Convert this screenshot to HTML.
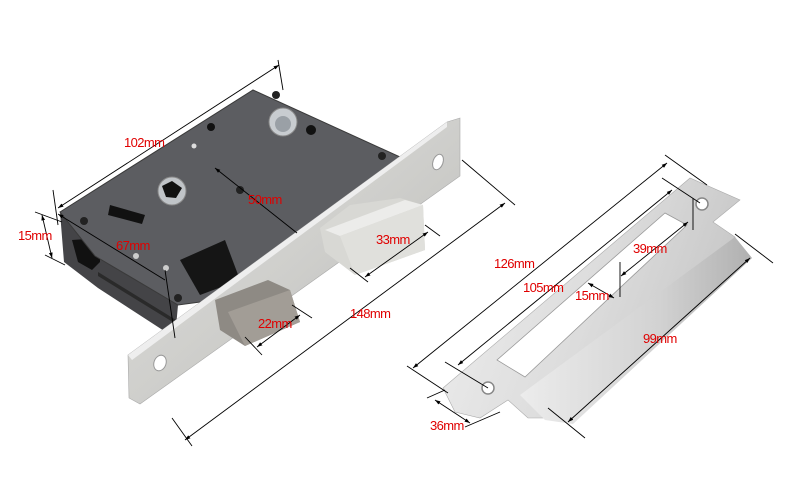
<!DOCTYPE html>
<html><head><meta charset="utf-8"><style>
html,body{margin:0;padding:0;background:#fff;}
svg{display:block;}
text{font-family:"Liberation Sans",sans-serif;font-size:13px;fill:#e00000;letter-spacing:-0.6px;}
</style></head><body>
<svg width="790" height="487" viewBox="0 0 790 487" xmlns="http://www.w3.org/2000/svg">
<defs>
<linearGradient id="steel" x1="0" y1="0" x2="1" y2="1">
<stop offset="0" stop-color="#e0e0de"/><stop offset="0.5" stop-color="#cfcfcc"/><stop offset="1" stop-color="#b8b8b5"/>
</linearGradient>
<linearGradient id="steel2" x1="0" y1="0" x2="1" y2="0.3">
<stop offset="0" stop-color="#f0f0f0"/><stop offset="0.6" stop-color="#dcdcdc"/><stop offset="1" stop-color="#c8c8c8"/>
</linearGradient>
<linearGradient id="lip" x1="0" y1="0" x2="1" y2="0">
<stop offset="0" stop-color="#ececec"/><stop offset="0.6" stop-color="#d2d2d2"/><stop offset="1" stop-color="#b0b0b0"/>
</linearGradient>
<marker id="a" viewBox="0 0 10 10" refX="10" refY="5" markerWidth="6" markerHeight="6" orient="auto-start-reverse"><path d="M0,1.5L10,5L0,8.5z" fill="#000"/></marker>
</defs>

<!-- lock case sides -->
<polygon points="60,212 64,262 98,288 175,338 178,305 95,256" fill="#444447"/>
<polygon points="98,272 176,320 176,324 98,276" fill="#2a2a2a"/>
<polygon points="72,240 100,238 100,262 92,270 78,262" fill="#111"/>
<!-- case face -->
<polygon points="60,212 253,90 400,157 440,140 215,300 178,305 95,256" fill="#5c5d61" stroke="#3a3a3a" stroke-width="1"/>
<!-- holes -->
<circle cx="283" cy="122" r="14" fill="#c8ccd0" stroke="#888"/><circle cx="283" cy="124" r="8" fill="#9aa0a6"/>
<circle cx="172" cy="191" r="14" fill="#c0c4c8" stroke="#888"/><path d="M162,186 L172,181 L182,188 L176,198 L166,197z" fill="#111"/>
<circle cx="311" cy="130" r="5" fill="#111"/><circle cx="211" cy="127" r="4" fill="#111"/>
<polygon points="110,205 145,215 142,224 108,215" fill="#111"/>
<polygon points="180,260 225,240 240,280 200,295" fill="#151515"/>
<circle cx="276" cy="95" r="4" fill="#222"/><circle cx="382" cy="156" r="4" fill="#222"/><circle cx="240" cy="190" r="4" fill="#222"/><circle cx="84" cy="221" r="4" fill="#222"/><circle cx="178" cy="298" r="4" fill="#222"/>
<circle cx="194" cy="146" r="2.5" fill="#ddd"/><circle cx="136" cy="256" r="3" fill="#ccc"/><circle cx="166" cy="268" r="3" fill="#ccc"/>

<!-- faceplate -->
<polygon points="128,355 447,122 460,118 460,176 140,404 129,398" fill="url(#steel)" stroke="#aaa" stroke-width="0.6"/>
<polygon points="128,355 447,122 447,127 132,360" fill="#eee"/>
<ellipse cx="438" cy="162" rx="5" ry="8" fill="#fff" stroke="#999" transform="rotate(20 438 162)"/>
<ellipse cx="160" cy="363" rx="6" ry="8" fill="#fff" stroke="#999" transform="rotate(20 160 363)"/>
<!-- deadbolt -->
<polygon points="320,228 350,205 400,198 423,205 425,250 355,275 325,252" fill="#d8d8d4"/>
<polygon points="325,230 405,200 423,205 340,236" fill="#ececea"/>
<polygon points="340,236 423,205 425,250 355,275" fill="#e0e0dc"/>
<!-- latch -->
<polygon points="215,300 268,280 290,290 300,322 245,346 220,330" fill="#8e8a84"/>
<polygon points="228,312 290,290 300,322 245,346" fill="#a29d96"/>

<!-- strike plate -->
<polygon points="443,388 690,178 740,200 713,222 735,237 560,418 528,418 508,400 480,418 455,412" fill="url(#steel2)" stroke="#aaa" stroke-width="0.6"/>
<polygon points="520,395 735,237 752,258 573,424 545,420" fill="url(#lip)"/>
<polygon points="665,213 687,225 525,377 497,360" fill="#fff" stroke="#999" stroke-width="0.8"/>
<circle cx="702" cy="204" r="6" fill="#fff" stroke="#888" stroke-width="1.5"/>
<circle cx="488" cy="388" r="6" fill="#fff" stroke="#888" stroke-width="1.5"/>

<!-- dimension lines -->
<g stroke="#000" stroke-width="0.9" fill="none">
<line x1="58" y1="208" x2="279" y2="65" marker-start="url(#a)" marker-end="url(#a)"/>
<line x1="53" y1="190" x2="58" y2="225"/><line x1="278" y1="60" x2="283" y2="90"/>
<line x1="42" y1="215" x2="52" y2="258" marker-start="url(#a)" marker-end="url(#a)"/>
<line x1="35" y1="212" x2="62" y2="222"/><line x1="45" y1="255" x2="65" y2="265"/>
<line x1="58" y1="214" x2="165" y2="280" marker-start="url(#a)"/>
<line x1="165" y1="270" x2="175" y2="338"/>
<line x1="215" y1="168" x2="297" y2="233" marker-start="url(#a)"/>
<line x1="365" y1="277" x2="428" y2="232" marker-start="url(#a)" marker-end="url(#a)"/>
<line x1="425" y1="225" x2="440" y2="236"/><line x1="350" y1="268" x2="368" y2="282"/>
<line x1="257" y1="347" x2="300" y2="315" marker-start="url(#a)" marker-end="url(#a)"/>
<line x1="292" y1="305" x2="312" y2="318"/><line x1="245" y1="337" x2="262" y2="355"/>
<line x1="185" y1="440" x2="505" y2="203" marker-start="url(#a)" marker-end="url(#a)"/>
<line x1="172" y1="418" x2="192" y2="446"/><line x1="462" y1="160" x2="515" y2="205"/>
<line x1="413" y1="368" x2="667" y2="163" marker-start="url(#a)" marker-end="url(#a)"/>
<line x1="407" y1="366" x2="448" y2="393"/><line x1="665" y1="155" x2="707" y2="185"/>
<line x1="458" y1="365" x2="672" y2="190" marker-start="url(#a)" marker-end="url(#a)"/>
<line x1="445" y1="362" x2="488" y2="388"/><line x1="662" y1="178" x2="700" y2="203"/>
<line x1="621" y1="276" x2="688" y2="222" marker-start="url(#a)" marker-end="url(#a)"/>
<line x1="620" y1="262" x2="620" y2="297"/><line x1="693" y1="198" x2="693" y2="230"/>
<line x1="588" y1="283" x2="614" y2="298" marker-start="url(#a)" marker-end="url(#a)"/>
<line x1="568" y1="422" x2="750" y2="258" marker-start="url(#a)" marker-end="url(#a)"/>
<line x1="735" y1="234" x2="773" y2="263"/><line x1="548" y1="408" x2="585" y2="438"/>
<line x1="435" y1="400" x2="470" y2="423" marker-start="url(#a)" marker-end="url(#a)"/>
<line x1="427" y1="398" x2="445" y2="390"/><line x1="465" y1="427" x2="500" y2="412"/>
</g>

<text x="124" y="147">102mm</text>
<text x="18" y="240">15mm</text>
<text x="116" y="250">67mm</text>
<text x="248" y="204">50mm</text>
<text x="376" y="244">33mm</text>
<text x="258" y="328">22mm</text>
<text x="350" y="318">148mm</text>
<text x="494" y="268">126mm</text>
<text x="523" y="292">105mm</text>
<text x="575" y="300">15mm</text>
<text x="633" y="253">39mm</text>
<text x="643" y="343">99mm</text>
<text x="430" y="430">36mm</text>
</svg>
</body></html>
